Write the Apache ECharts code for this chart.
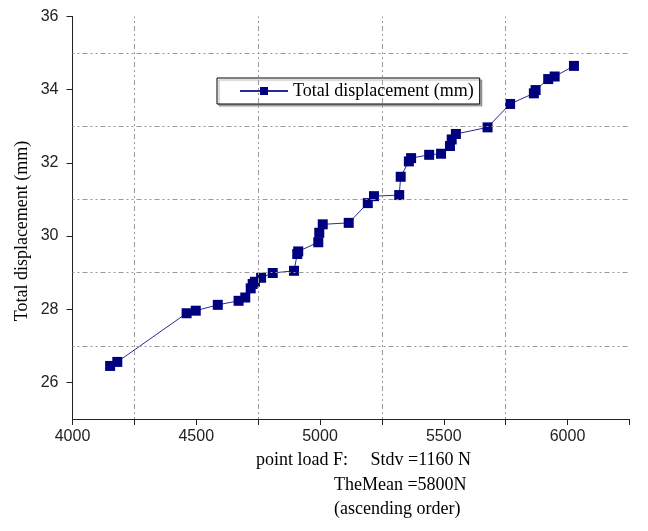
<!DOCTYPE html>
<html>
<head>
<meta charset="utf-8">
<script src="https://cdn.jsdelivr.net/npm/echarts@6/dist/echarts.min.js"></script>
<style>
  html, body { margin: 0; padding: 0; background: #fff; }
  #main { width: 648px; height: 531px; }
</style>
</head>
<body>
<div id="main"></div>
<script>
// point load F (N), ascending order
var loads = [4152, 4181, 4461, 4498, 4587, 4671, 4698, 4720, 4728, 4737,
  4762, 4809, 4895, 4908, 4912, 4993, 4997, 5011, 5116, 5193,
  5218, 5320, 5326, 5359, 5368, 5441, 5489, 5525, 5532, 5549,
  5677, 5768, 5864, 5871, 5922, 5948, 6026];
// total displacement (mm)
var disp = [26.45, 26.56, 27.89, 27.96, 28.12, 28.23, 28.32, 28.57, 28.69, 28.75,
  28.86, 28.99, 29.05, 29.51, 29.58, 29.83, 30.09, 30.32, 30.36, 30.90,
  31.09, 31.12, 31.62, 32.04, 32.13, 32.22, 32.25, 32.46, 32.64, 32.79,
  32.97, 33.61, 33.90, 33.99, 34.29, 34.36, 34.65];

var xTicks = [4000, 4250, 4500, 4750, 5000, 5250, 5500, 5750, 6000, 6250];
var xLabels = [4000, 4500, 5000, 5500, 6000];
var yTicks = [26, 28, 30, 32, 34, 36];
var xGrid = [4250, 4750, 5250, 5750];
var yGrid = [27, 29, 31, 33, 35];

var serif = "'Liberation Serif', 'Times New Roman', serif";
var sans = "'Liberation Sans', Arial, sans-serif";

var points = loads.map(function (v, i) { return [v, disp[i]]; });

var gridLines = [];
xGrid.forEach(function (v) { gridLines.push({ xAxis: v }); });
yGrid.forEach(function (v) { gridLines.push({ yAxis: v }); });

var chart = echarts.init(document.getElementById('main'));
var option = {
  animation: false,
  backgroundColor: '#fff',
  grid: { left: 72.5, right: 18.6, top: 16.5, bottom: 112 },
  legend: {
    left: 217, top: 78,
    padding: [4, 6, 4, 22],
    itemWidth: 48, itemHeight: 10,
    borderColor: '#000', borderWidth: 1,
    backgroundColor: '#fff',
    shadowColor: 'rgba(0,0,0,0.3)', shadowOffsetX: 2, shadowOffsetY: 2, shadowBlur: 1,
    textStyle: { fontFamily: serif, fontSize: 18, color: '#000' },
    data: ['Total displacement (mm)']
  },
  xAxis: {
    type: 'value',
    min: 4000, max: 6250,
    axisLine: { show: true, lineStyle: { color: '#222', width: 1 } },
    axisTick: { show: true, length: 6, customValues: xTicks, lineStyle: { color: '#222' } },
    axisLabel: {
      customValues: xLabels, margin: 10, fontFamily: sans, fontSize: 16, color: '#222',
      formatter: function (v) { return String(v); }
    },
    splitLine: { show: false }
  },
  yAxis: {
    type: 'value',
    min: 25, max: 36,
    axisLine: { show: true, lineStyle: { color: '#222', width: 1 } },
    axisTick: { show: true, length: 6, customValues: yTicks, lineStyle: { color: '#222' } },
    axisLabel: { customValues: yTicks, margin: 14, fontFamily: sans, fontSize: 16, color: '#222' },
    splitLine: { show: false }
  },
  series: [{
    name: 'Total displacement (mm)',
    type: 'line',
    data: points,
    symbol: 'rect',
    symbolSize: 10,
    itemStyle: { color: '#00007f' },
    lineStyle: { color: '#2a2a96', width: 1 },
    markLine: {
      silent: true,
      symbol: 'none',
      label: { show: false },
      lineStyle: { color: '#999', width: 1, type: [2, 3, 2, 3, 5, 3] },
      data: gridLines
    }
  }],
  graphic: [
    {
      type: 'text', x: 22, y: 231, rotation: Math.PI / 2,
      style: { text: 'Total displacement (mm)', font: '18px ' + serif, fill: '#000', align: 'center', verticalAlign: 'middle' }
    },
    {
      type: 'text', left: 256, top: 451,
      style: { text: 'point load F:     Stdv =1160 N', font: '18px ' + serif, fill: '#000' }
    },
    {
      type: 'text', left: 334, top: 476,
      style: { text: 'TheMean =5800N', font: '18px ' + serif, fill: '#000' }
    },
    {
      type: 'text', left: 334, top: 500,
      style: { text: '(ascending order)', font: '18px ' + serif, fill: '#000' }
    }
  ]
};
chart.setOption(option);
</script>
</body>
</html>
